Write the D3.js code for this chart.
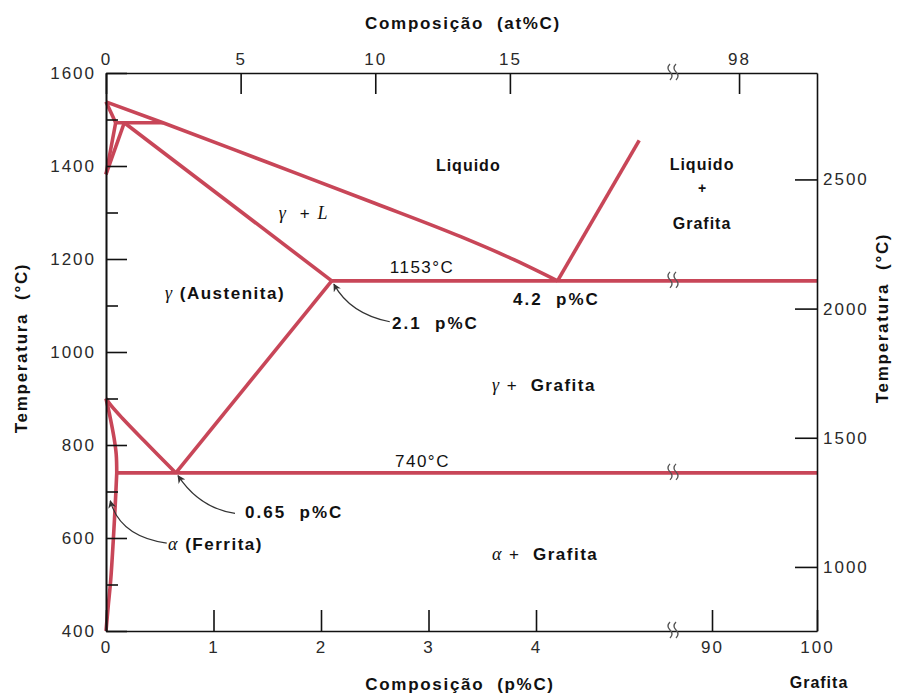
<!DOCTYPE html>
<html>
<head>
<meta charset="utf-8">
<script src="https://cdn.jsdelivr.net/npm/d3@7"></script>
<style>
  body { margin: 0; background: #fff; }
  svg { display: block; }
  text { white-space: pre; }
</style>
</head>
<body>
<svg id="chart" width="912" height="695"></svg>
<script>
// Diagrama de fases Fe–C (ferro–grafita)

// eixo inferior: composição em % em peso de C (com quebra entre 4 e 90)
const wtTicks = [0, 1, 2, 3, 4, 90, 100];
const wtTickLabels = ["0", "1", "2", "3", "4", "90", "100"];
// eixo superior: composição em % atômica de C
const atTicks = [0, 5, 10, 15, 98];
const atTickLabels = ["0", "5", "10", "15", "98"];
// eixos de temperatura
const tempTicksC = [400, 600, 800, 1000, 1200, 1400, 1600];
const tempMinorC = [500, 700, 900, 1100, 1300, 1500];
const tempTicksF = [1000, 1500, 2000, 2500];

// linhas de fronteira de fase, pares (p%C, °C)
const liquidus = [[0, 1538], [0.53, 1493], [1.5, 1408], [2.5, 1320], [3.3, 1248], [3.8, 1198], [4.2, 1153]];
const graphiteLiquidus = [[4.2, 1153], [4.96, 1455]];
const deltaSolidus = [[0, 1538], [0.09, 1493]];
const deltaGammaLeft = [[0.09, 1493], [0, 1382]];
const deltaGammaRight = [[0, 1382], [0.17, 1493]];
const peritectic = [[0.09, 1493], [0.53, 1493]];
const gammaSolidus = [[0.17, 1493], [2.1, 1153]];
const eutectic = [[2.1, 1153], [100, 1153]];
const acmLine = [[2.1, 1153], [0.65, 740]];
const a3Line = [[0, 900], [0.05, 884], [0.15, 858], [0.35, 810], [0.65, 740]];
const alphaGamma = [[0, 900], [0.04, 858], [0.075, 815], [0.095, 780], [0.1, 740]];
const eutectoid = [[0.1, 740], [100, 740]];
const alphaSolvus = [[0.1, 740], [0.085, 667], [0.068, 596], [0.044, 510], [0.02, 452], [0, 400]];

const straightLines = [graphiteLiquidus, deltaSolidus, deltaGammaLeft, deltaGammaRight,
  peritectic, gammaSolidus, eutectic, acmLine, eutectoid];
const curvedLines = [a3Line, alphaGamma, alphaSolvus];

// quebra do eixo de composição
const wtBreak = [5.265, 86.19];
const atBreak = [21.02, 96.28];

const svg = d3.select("#chart");
const sans = "'Liberation Sans', Arial, Helvetica, sans-serif";
const serif = "'Liberation Serif', 'Times New Roman', serif";
const lineColor = "#c84658";

const plotLeft = 106, plotRight = 817, plotTop = 73, plotBottom = 631, breakX = 672;

const x = d3.scaleLinear()
  .domain([0, wtBreak[0], wtBreak[1], 100])
  .range([plotLeft, breakX, breakX, plotRight]);
const xAt = d3.scaleLinear()
  .domain([0, atBreak[0], atBreak[1], 100])
  .range([plotLeft, breakX, breakX, plotRight]);
const y = d3.scaleLinear().domain([400, 1600]).range([plotBottom, plotTop]);
const cToF = c => c * 9 / 5 + 32;
const yF = d3.scaleLinear().domain([cToF(400), cToF(1600)]).range([plotBottom, plotTop]);

svg.append("rect").attr("width", 912).attr("height", 695).attr("fill", "#fff");

// ---- fronteiras de fase
const straight = d3.line().x(d => x(d[0])).y(d => y(d[1]));
const curved = d3.line().x(d => x(d[0])).y(d => y(d[1])).curve(d3.curveCatmullRom.alpha(0.5));
const smooth = d3.line().x(d => x(d[0])).y(d => y(d[1])).curve(d3.curveMonotoneX);

const phase = svg.append("g")
  .attr("fill", "none")
  .attr("stroke", lineColor)
  .attr("stroke-width", 3.6)
  .attr("stroke-linejoin", "round");
phase.selectAll("path.s").data(straightLines).join("path").attr("class", "s").attr("d", straight);
phase.selectAll("path.c").data(curvedLines).join("path").attr("class", "c").attr("d", curved);
phase.append("path").datum(liquidus).attr("d", smooth);

// ---- eixos
const plain = d3.format("d");
function styleAxis(g) {
  g.selectAll("path.domain").attr("stroke", "#111").attr("stroke-width", 1.6);
  g.selectAll(".tick line").attr("stroke", "#111").attr("stroke-width", 1.6);
  g.selectAll(".tick text")
    .attr("fill", "#2a2a2a")
    .attr("font-family", sans)
    .attr("font-size", 17)
    .attr("letter-spacing", "2px");
}

svg.append("g")
  .attr("transform", `translate(0,${plotBottom})`)
  .call(d3.axisBottom(x).tickValues(wtTicks)
    .tickFormat((d, i) => wtTickLabels[i])
    .tickSizeInner(-21).tickSizeOuter(0).tickPadding(10))
  .call(styleAxis);

svg.append("g")
  .attr("transform", `translate(0,${plotTop})`)
  .call(d3.axisTop(xAt).tickValues(atTicks)
    .tickFormat((d, i) => atTickLabels[i])
    .tickSizeInner(-21).tickSizeOuter(0).tickPadding(8))
  .call(styleAxis);

svg.append("g")
  .attr("transform", `translate(${plotLeft},0)`)
  .call(d3.axisLeft(y).tickValues(tempMinorC).tickFormat("")
    .tickSizeInner(-12).tickSizeOuter(0))
  .call(styleAxis);

svg.append("g")
  .attr("transform", `translate(${plotLeft},0)`)
  .call(d3.axisLeft(y).tickValues(tempTicksC).tickFormat(plain)
    .tickSizeInner(-21).tickSizeOuter(0).tickPadding(10))
  .call(styleAxis);

svg.append("g")
  .attr("transform", `translate(${plotRight},0)`)
  .call(d3.axisRight(yF).tickValues(tempTicksF).tickFormat(plain)
    .tickSizeInner(-22).tickSizeOuter(0).tickPadding(6))
  .call(styleAxis);

// ---- marcas de quebra (≀≀) nos eixos e nas isotermas
function breakMark(cx, cy) {
  const g = svg.append("g").attr("fill", "none").attr("stroke", "#555").attr("stroke-width", 1.3);
  [-3, 3].forEach(dx => {
    const px = cx + dx;
    g.append("path")
      .attr("d", `M${px + 1},${cy - 8} q-4,4 0,8 q4,4 0,8`);
  });
}
breakMark(x(wtBreak[0]), plotTop - 1);
breakMark(x(wtBreak[0]), plotBottom - 1);
breakMark(x(wtBreak[0]), y(1153) - 1);
breakMark(x(wtBreak[0]), y(740) - 1);

// ---- setas de indicação
svg.append("defs").append("marker")
  .attr("id", "head")
  .attr("viewBox", "0 0 10 10")
  .attr("refX", 9).attr("refY", 5)
  .attr("markerWidth", 8).attr("markerHeight", 8)
  .attr("markerUnits", "userSpaceOnUse")
  .attr("orient", "auto")
  .append("path").attr("d", "M0,0 L10,5 L0,10 L3,5 Z").attr("fill", "#333");

const arrows = [
  { from: [2.64, 1065], ctrl: [2.27, 1082], to: [2.12, 1146] },
  { from: [1.2, 653], ctrl: [0.87, 664], to: [0.67, 734] },
  { from: [0.565, 589], ctrl: [0.13, 603], to: [0.04, 680] }
];
svg.append("g").selectAll("path").data(arrows).join("path")
  .attr("d", a => `M${x(a.from[0])},${y(a.from[1])} Q${x(a.ctrl[0])},${y(a.ctrl[1])} ${x(a.to[0])},${y(a.to[1])}`)
  .attr("fill", "none")
  .attr("stroke", "#333")
  .attr("stroke-width", 1.2)
  .attr("marker-end", "url(#head)");

// ---- rótulos das regiões e pontos
function label(wt, t, anchor, parts, size = 17, spacing = 1.5) {
  const txt = svg.append("text")
    .attr("x", x(wt)).attr("y", y(t))
    .attr("text-anchor", anchor)
    .attr("font-family", sans)
    .attr("font-size", size)
    .attr("letter-spacing", spacing + "px")
    .attr("fill", "#111");
  parts.forEach(p => {
    const ts = txt.append("tspan").text(p.t);
    if (p.greek) ts.attr("font-family", serif).attr("font-style", "italic").attr("font-size", size + 1);
    if (p.bold) ts.attr("font-weight", "bold");
  });
  return txt;
}

label(3.37, 1389, "middle", [{ t: "Liquido", bold: true }], 16, 1);
label(89.05, 1391, "middle", [{ t: "Liquido", bold: true }], 16, 1);
label(89.05, 1341, "middle", [{ t: "+", bold: true }], 14, 0);
label(89.05, 1265, "middle", [{ t: "Grafita", bold: true }], 16, 1);
label(1.84, 1286, "middle", [{ t: "γ", greek: true }, { t: "  + " }, { t: "L", greek: true }]);
label(2.94, 1170, "middle", [{ t: "1153°C" }]);
label(1.107, 1114, "middle", [{ t: "γ", greek: true }, { t: " (Austenita)", bold: true }]);
label(2.66, 1050, "start", [{ t: "2.1  p%C", bold: true }], 17, 2);
label(3.786, 1101, "start", [{ t: "4.2  p%C", bold: true }], 17, 2);
label(3.59, 916, "start", [{ t: "γ", greek: true }, { t: " +  " }, { t: "Grafita", bold: true }]);
label(2.944, 753, "middle", [{ t: "740°C" }]);
label(1.293, 643, "start", [{ t: "0.65  p%C", bold: true }], 17, 2);
label(0.577, 574, "start", [{ t: "α", greek: true }, { t: " (Ferrita)", bold: true }]);
label(3.59, 553, "start", [{ t: "α", greek: true }, { t: " +  " }, { t: "Grafita", bold: true }]);

// ---- títulos dos eixos
function title(tx, ty, rot, text) {
  svg.append("text")
    .attr("transform", `translate(${tx},${ty}) rotate(${rot})`)
    .attr("text-anchor", "middle")
    .attr("font-family", sans)
    .attr("font-weight", "bold")
    .attr("font-size", 17)
    .attr("letter-spacing", "1.7px")
    .attr("fill", "#111")
    .text(text);
}
title(463, 29, 0, "Composição  (at%C)");
title(460, 690, 0, "Composição  (p%C)");
title(27, 348, -90, "Temperatura  (°C)");
title(888, 318, -90, "Temperatura  (°C)");

svg.append("text")
  .attr("x", plotRight + 2).attr("y", 688)
  .attr("text-anchor", "middle")
  .attr("font-family", sans)
  .attr("font-weight", "bold")
  .attr("font-size", 16)
  .attr("letter-spacing", "1px")
  .attr("fill", "#111")
  .text("Grafita");
</script>
</body>
</html>
